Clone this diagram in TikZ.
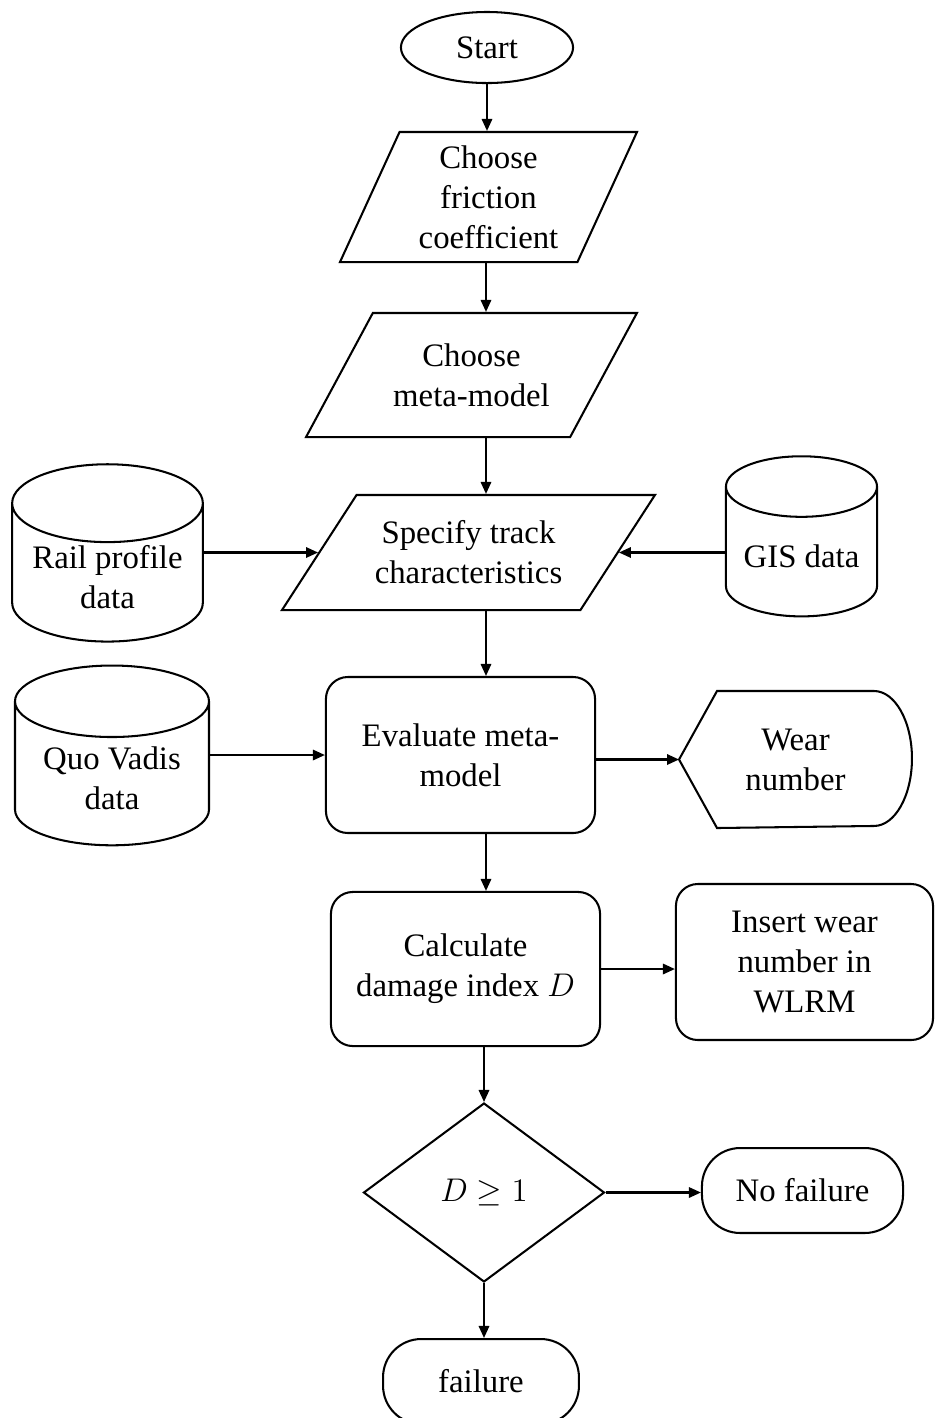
\documentclass[tikz,border=0pt]{standalone}
\usepackage{fontspec}
\setmainfont{Liberation Serif}
\usetikzlibrary{arrows.meta,shapes.geometric,calc}

\begin{document}
\begin{tikzpicture}[
  x=0.366pt, y=-0.366pt,
  font=\fontsize{12}{14.6}\selectfont,
  line width=0.75pt,
  terminal/.style={ellipse, draw, minimum width=63pt, minimum height=26pt, inner sep=1pt},
  io/.style={trapezium, draw, trapezium left angle=#1, trapezium right angle=180-#1, trapezium stretches body, align=center, inner sep=1pt},
  store/.style={cylinder, shape border rotate=90, aspect=0.5, draw, align=center, inner sep=1pt},
  proc/.style={rectangle, draw, rounded corners=8pt, align=center, inner sep=2pt},
  disp/.style={rectangle, align=center, minimum width=84.5pt, minimum height=49.4pt, inner sep=0pt},
  decision/.style={diamond, draw, aspect=1.35, minimum width=88.2pt, minimum height=65.5pt, inner sep=0pt},
  stop/.style={rectangle, draw, rounded corners=14pt, minimum height=31.1pt, inner sep=1pt},
  arr/.style={-{Triangle[length=4.4pt, width=3.8pt]}},
]
\useasboundingbox (0,0) rectangle (935,1418);

% ---------------- main column ----------------
\node[terminal] (start) at (487,47.5) {Start};
\node[io=61.2, minimum width=108.7pt, minimum height=47.6pt] (fric) at (488.5,197) {Choose\\friction\\coefficient};
\node[io=45.7, minimum width=121.1pt, minimum height=45.4pt] (meta) at (471.5,375) {Choose\\meta-model};
\node[io=42.7, minimum width=136.5pt, minimum height=42.1pt] (track) at (468.5,552.5) {Specify track\\characteristics};
\node[proc, minimum width=98.5pt, minimum height=57.1pt] (eval) at (460.5,755) {Evaluate meta-\\model};
\node[proc, minimum width=98.5pt, minimum height=56.4pt] (dmg) at (465.5,969) {Calculate\\damage index $D$};
\node[decision] (check) at (484,1192.5) {$D \geq 1$};
\node[stop, minimum width=71.7pt] (fail) at (481,1381.5) {failure};
\coordinate (spine) at (486,0);

% ---------------- side nodes ----------------
\node[store, minimum width=69.8pt, minimum height=61.9pt] (rail) at (107.5,577.5) {Rail profile\\data};
\node[store, minimum width=55.3pt, minimum height=58.6pt] (gis) at (801.5,556) {GIS data};
\node[store, minimum width=71pt, minimum height=65.8pt] (quo) at (112,778) {Quo Vadis\\data};
\node[disp] (wear) at (795.5,759.5) {Wear\\number};
\draw (wear.west) -- ([xshift=13.9pt]wear.north west) -- ([xshift=-13.9pt]wear.north east)
  arc[start angle=90, end angle=-90, x radius=13.9pt, y radius=24.7pt]
  -- ([xshift=13.9pt]wear.south west) -- cycle;
\node[proc, minimum width=94.1pt, minimum height=57.1pt] (ins) at (804.5,962) {Insert wear\\number in\\WLRM};
\node[stop, minimum width=73.6pt] (nofail) at (802.5,1190.5) {No failure};

% ---------------- connectors ----------------
\draw[arr] (start.south) -- (start.south |- fric.north);
\draw[arr] (fric.south -| spine) -- (meta.north -| spine);
\draw[arr] (meta.south -| spine) -- (track.north -| spine);
\draw[arr] (track.south -| spine) -- (eval.north -| spine);
\draw[arr] (eval.south -| spine) -- (dmg.north -| spine);
\draw[arr] (dmg.south -| check.north) -- (check.north);
\draw[arr] (check.south) -- (check.south |- fail.north);
\draw[arr] (rail.east |- track.west) -- (track.west);
\draw[arr] (gis.west |- track.east) -- (track.east);
\draw[arr] (quo.east |- eval.west) -- (eval.west);
\draw[arr] (eval.east |- wear.west) -- (wear.west);
\draw[arr] (dmg.east) -- (dmg.east -| ins.west);
\draw[arr] (check.east) -- (check.east -| nofail.west);
\end{tikzpicture}
\end{document}
